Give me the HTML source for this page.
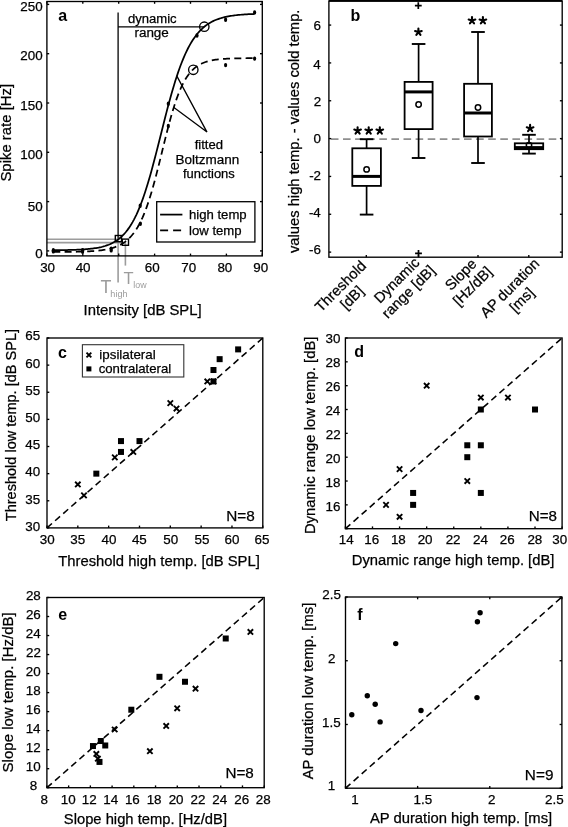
<!DOCTYPE html>
<html><head><meta charset="utf-8"><title>figure</title>
<style>
html,body{margin:0;padding:0;background:#fff;}
body{width:568px;height:827px;overflow:hidden;}
svg{display:block;will-change:transform;font-family:"Liberation Sans",sans-serif;}
</style></head>
<body>
<svg width="568" height="827" viewBox="0 0 568 827">
<rect width="568" height="827" fill="#fff"/>
<line x1="46.9" y1="239.2" x2="118.3" y2="239.2" stroke="#9c9c9c" stroke-width="1.6"/>
<line x1="46.9" y1="242.6" x2="125.4" y2="242.6" stroke="#9c9c9c" stroke-width="1.6"/>
<line x1="118.1" y1="238.6" x2="118.1" y2="282.5" stroke="#9c9c9c" stroke-width="1.6"/>
<line x1="125.4" y1="242.1" x2="125.4" y2="265.6" stroke="#9c9c9c" stroke-width="1.6"/>
<line x1="118.1" y1="12.6" x2="118.1" y2="238.6" stroke="#000" stroke-width="1.3"/>
<line x1="118.1" y1="26.9" x2="204.3" y2="26.9" stroke="#000" stroke-width="1.3"/>
<path d="M53.3,250.18 L54.56,250.17 L55.82,250.16 L57.07,250.15 L58.33,250.14 L59.59,250.13 L60.85,250.11 L62.11,250.1 L63.36,250.08 L64.62,250.06 L65.88,250.04 L67.14,250.01 L68.4,249.99 L69.66,249.96 L70.91,249.93 L72.17,249.89 L73.43,249.85 L74.69,249.81 L75.95,249.77 L77.2,249.72 L78.46,249.66 L79.72,249.6 L80.98,249.54 L82.24,249.46 L83.5,249.38 L84.75,249.3 L86.01,249.2 L87.27,249.1 L88.53,248.98 L89.79,248.86 L91.04,248.72 L92.3,248.57 L93.56,248.41 L94.82,248.23 L96.08,248.03 L97.33,247.81 L98.59,247.58 L99.85,247.32 L101.11,247.04 L102.37,246.73 L103.62,246.39 L104.88,246.03 L106.14,245.62 L107.4,245.18 L108.66,244.71 L109.92,244.19 L111.17,243.62 L112.43,243 L113.69,242.32 L114.95,241.59 L116.21,240.79 L117.46,239.93 L118.72,238.99 L119.98,237.97 L121.24,236.87 L122.5,235.67 L123.76,234.38 L125.01,232.99 L126.27,231.49 L127.53,229.87 L128.79,228.13 L130.05,226.26 L131.3,224.26 L132.56,222.11 L133.82,219.82 L135.08,217.38 L136.34,214.78 L137.59,212.02 L138.85,209.1 L140.11,206.01 L141.37,202.75 L142.63,199.33 L143.88,195.74 L145.14,191.98 L146.4,188.06 L147.66,183.99 L148.92,179.77 L150.18,175.41 L151.43,170.92 L152.69,166.3 L153.95,161.59 L155.21,156.78 L156.47,151.9 L157.72,146.95 L158.98,141.96 L160.24,136.95 L161.5,131.93 L162.76,126.92 L164.01,121.94 L165.27,117 L166.53,112.12 L167.79,107.32 L169.05,102.61 L170.31,98.01 L171.56,93.52 L172.82,89.15 L174.08,84.92 L175.34,80.84 L176.6,76.9 L177.85,73.12 L179.11,69.49 L180.37,66.03 L181.63,62.72 L182.89,59.57 L184.14,56.58 L185.4,53.74 L186.66,51.06 L187.92,48.52 L189.18,46.13 L190.44,43.88 L191.69,41.76 L192.95,39.78 L194.21,37.91 L195.47,36.17 L196.73,34.54 L197.98,33.01 L199.24,31.59 L200.5,30.26 L201.76,29.02 L203.02,27.87 L204.27,26.8 L205.53,25.81 L206.79,24.88 L208.05,24.02 L209.31,23.22 L210.57,22.48 L211.82,21.8 L213.08,21.16 L214.34,20.57 L215.6,20.03 L216.86,19.52 L218.11,19.06 L219.37,18.62 L220.63,18.22 L221.89,17.86 L223.15,17.51 L224.41,17.2 L225.66,16.91 L226.92,16.64 L228.18,16.39 L229.44,16.16 L230.7,15.95 L231.95,15.75 L233.21,15.57 L234.47,15.4 L235.73,15.25 L236.99,15.11 L238.24,14.98 L239.5,14.86 L240.76,14.75 L242.02,14.64 L243.28,14.55 L244.54,14.46 L245.79,14.38 L247.05,14.31 L248.31,14.24 L249.57,14.17 L250.83,14.11 L252.08,14.06 L253.34,14.01 L254.6,13.97" fill="none" stroke="#000" stroke-width="1.75"/>
<path d="M53.3,251.99 L54.56,251.99 L55.82,251.98 L57.07,251.98 L58.33,251.97 L59.59,251.96 L60.85,251.96 L62.11,251.95 L63.36,251.94 L64.62,251.93 L65.88,251.92 L67.14,251.9 L68.4,251.89 L69.66,251.87 L70.91,251.86 L72.17,251.84 L73.43,251.82 L74.69,251.8 L75.95,251.77 L77.2,251.75 L78.46,251.72 L79.72,251.69 L80.98,251.65 L82.24,251.61 L83.5,251.57 L84.75,251.52 L86.01,251.47 L87.27,251.42 L88.53,251.36 L89.79,251.29 L91.04,251.22 L92.3,251.13 L93.56,251.04 L94.82,250.95 L96.08,250.84 L97.33,250.72 L98.59,250.59 L99.85,250.45 L101.11,250.29 L102.37,250.12 L103.62,249.93 L104.88,249.73 L106.14,249.5 L107.4,249.25 L108.66,248.98 L109.92,248.68 L111.17,248.35 L112.43,247.99 L113.69,247.59 L114.95,247.16 L116.21,246.69 L117.46,246.17 L118.72,245.6 L119.98,244.98 L121.24,244.29 L122.5,243.55 L123.76,242.73 L125.01,241.84 L126.27,240.87 L127.53,239.81 L128.79,238.66 L130.05,237.4 L131.3,236.03 L132.56,234.54 L133.82,232.92 L135.08,231.16 L136.34,229.26 L137.59,227.21 L138.85,224.99 L140.11,222.6 L141.37,220.04 L142.63,217.28 L143.88,214.33 L145.14,211.19 L146.4,207.84 L147.66,204.29 L148.92,200.54 L150.18,196.59 L151.43,192.45 L152.69,188.12 L153.95,183.61 L155.21,178.95 L156.47,174.15 L157.72,169.22 L158.98,164.2 L160.24,159.11 L161.5,153.97 L162.76,148.83 L164.01,143.69 L165.27,138.6 L166.53,133.59 L167.79,128.68 L169.05,123.89 L170.31,119.25 L171.56,114.79 L172.82,110.51 L174.08,106.43 L175.34,102.55 L176.6,98.9 L177.85,95.46 L179.11,92.24 L180.37,89.24 L181.63,86.45 L182.89,83.87 L184.14,81.49 L185.4,79.29 L186.66,77.28 L187.92,75.44 L189.18,73.76 L190.44,72.23 L191.69,70.83 L192.95,69.57 L194.21,68.42 L195.47,67.38 L196.73,66.44 L197.98,65.6 L199.24,64.83 L200.5,64.14 L201.76,63.52 L203.02,62.97 L204.27,62.46 L205.53,62.01 L206.79,61.61 L208.05,61.25 L209.31,60.92 L210.57,60.63 L211.82,60.37 L213.08,60.13 L214.34,59.92 L215.6,59.74 L216.86,59.57 L218.11,59.42 L219.37,59.28 L220.63,59.16 L221.89,59.05 L223.15,58.96 L224.41,58.87 L225.66,58.79 L226.92,58.73 L228.18,58.66 L229.44,58.61 L230.7,58.56 L231.95,58.52 L233.21,58.48 L234.47,58.44 L235.73,58.41 L236.99,58.38 L238.24,58.36 L239.5,58.33 L240.76,58.31 L242.02,58.3 L243.28,58.28 L244.54,58.27 L245.79,58.25 L247.05,58.24 L248.31,58.23 L249.57,58.22 L250.83,58.21 L252.08,58.21 L253.34,58.2 L254.6,58.19" fill="none" stroke="#000" stroke-width="1.75" stroke-dasharray="7 4.3"/>
<ellipse cx="53.3" cy="250.2" rx="1.6" ry="2.2" fill="#000"/>
<ellipse cx="53.3" cy="251.4" rx="1.6" ry="2.2" fill="#000"/>
<ellipse cx="82.6" cy="250.3" rx="1.6" ry="2.2" fill="#000"/>
<ellipse cx="82.6" cy="251.8" rx="1.6" ry="2.2" fill="#000"/>
<ellipse cx="111.2" cy="248.6" rx="1.6" ry="2.2" fill="#000"/>
<ellipse cx="111.2" cy="250.4" rx="1.6" ry="2.2" fill="#000"/>
<ellipse cx="140.2" cy="205.8" rx="1.6" ry="2.2" fill="#000"/>
<ellipse cx="140.4" cy="223.8" rx="1.6" ry="2.2" fill="#000"/>
<ellipse cx="168.3" cy="103.7" rx="1.6" ry="2.2" fill="#000"/>
<ellipse cx="168.3" cy="126" rx="1.6" ry="2.2" fill="#000"/>
<ellipse cx="197" cy="35.5" rx="1.6" ry="2.2" fill="#000"/>
<ellipse cx="225.6" cy="19.8" rx="1.6" ry="2.2" fill="#000"/>
<ellipse cx="225.6" cy="65.1" rx="1.6" ry="2.2" fill="#000"/>
<ellipse cx="254.6" cy="12.4" rx="1.6" ry="2.2" fill="#000"/>
<ellipse cx="254.6" cy="58.6" rx="1.6" ry="2.2" fill="#000"/>
<circle cx="204.3" cy="26.7" r="4.7" fill="none" stroke="#000" stroke-width="1.35"/>
<circle cx="193.3" cy="69.8" r="4.7" fill="none" stroke="#000" stroke-width="1.35"/>
<rect x="115.3" y="235.5" width="6.2" height="6.2" fill="none" stroke="#000" stroke-width="1.4"/>
<rect x="122.3" y="239.1" width="6.2" height="6.2" fill="none" stroke="#000" stroke-width="1.4"/>
<path d="M176.6 75.6L207 132.1L173.9 107.6" fill="none" stroke="#000" stroke-width="1.3"/>
<rect x="46.9" y="1.5" width="215.4" height="254.4" fill="none" stroke="#000" stroke-width="1.35"/>
<line x1="46.9" y1="255.9" x2="46.9" y2="253.6" stroke="#000" stroke-width="1.35"/>
<line x1="46.9" y1="1.5" x2="46.9" y2="3.8" stroke="#000" stroke-width="1.35"/>
<line x1="82.8" y1="255.9" x2="82.8" y2="253.6" stroke="#000" stroke-width="1.35"/>
<line x1="82.8" y1="1.5" x2="82.8" y2="3.8" stroke="#000" stroke-width="1.35"/>
<line x1="118.7" y1="255.9" x2="118.7" y2="253.6" stroke="#000" stroke-width="1.35"/>
<line x1="118.7" y1="1.5" x2="118.7" y2="3.8" stroke="#000" stroke-width="1.35"/>
<line x1="154.6" y1="255.9" x2="154.6" y2="253.6" stroke="#000" stroke-width="1.35"/>
<line x1="154.6" y1="1.5" x2="154.6" y2="3.8" stroke="#000" stroke-width="1.35"/>
<line x1="190.5" y1="255.9" x2="190.5" y2="253.6" stroke="#000" stroke-width="1.35"/>
<line x1="190.5" y1="1.5" x2="190.5" y2="3.8" stroke="#000" stroke-width="1.35"/>
<line x1="226.4" y1="255.9" x2="226.4" y2="253.6" stroke="#000" stroke-width="1.35"/>
<line x1="226.4" y1="1.5" x2="226.4" y2="3.8" stroke="#000" stroke-width="1.35"/>
<line x1="262.3" y1="255.9" x2="262.3" y2="253.6" stroke="#000" stroke-width="1.35"/>
<line x1="262.3" y1="1.5" x2="262.3" y2="3.8" stroke="#000" stroke-width="1.35"/>
<line x1="46.9" y1="250.9" x2="49.2" y2="250.9" stroke="#000" stroke-width="1.35"/>
<line x1="262.3" y1="250.9" x2="260" y2="250.9" stroke="#000" stroke-width="1.35"/>
<line x1="46.9" y1="201.6" x2="49.2" y2="201.6" stroke="#000" stroke-width="1.35"/>
<line x1="262.3" y1="201.6" x2="260" y2="201.6" stroke="#000" stroke-width="1.35"/>
<line x1="46.9" y1="152.3" x2="49.2" y2="152.3" stroke="#000" stroke-width="1.35"/>
<line x1="262.3" y1="152.3" x2="260" y2="152.3" stroke="#000" stroke-width="1.35"/>
<line x1="46.9" y1="103" x2="49.2" y2="103" stroke="#000" stroke-width="1.35"/>
<line x1="262.3" y1="103" x2="260" y2="103" stroke="#000" stroke-width="1.35"/>
<line x1="46.9" y1="53.7" x2="49.2" y2="53.7" stroke="#000" stroke-width="1.35"/>
<line x1="262.3" y1="53.7" x2="260" y2="53.7" stroke="#000" stroke-width="1.35"/>
<line x1="46.9" y1="4.4" x2="49.2" y2="4.4" stroke="#000" stroke-width="1.35"/>
<line x1="262.3" y1="4.4" x2="260" y2="4.4" stroke="#000" stroke-width="1.35"/>
<text x="58.22" y="21.4" font-size="16" font-weight="bold">a</text>
<text x="127.88" y="23.2" font-size="13.09" stroke="#000" stroke-width="0.25">dynamic</text>
<text x="134.43" y="37.2" font-size="13.46" stroke="#000" stroke-width="0.25">range</text>
<text x="194.7" y="149.3" font-size="13.09" stroke="#000" stroke-width="0.25">fitted</text>
<text x="175.52" y="164.1" font-size="13.49" stroke="#000" stroke-width="0.25">Boltzmann</text>
<text x="183.01" y="178.4" font-size="12.95" stroke="#000" stroke-width="0.25">functions</text>
<rect x="156.7" y="201.7" width="98.2" height="40.3" fill="none" stroke="#000" stroke-width="1.3"/>
<line x1="160.1" y1="214.6" x2="182.4" y2="214.6" stroke="#000" stroke-width="1.75"/>
<line x1="160.1" y1="230.4" x2="182.4" y2="230.4" stroke="#000" stroke-width="1.75" stroke-dasharray="8 5"/>
<text x="188.98" y="219" font-size="13.15" stroke="#000" stroke-width="0.25">high temp</text>
<text x="189.05" y="235.3" font-size="13.15" stroke="#000" stroke-width="0.25">low temp</text>
<text x="40.13" y="272.4" font-size="13.4" stroke="#000" stroke-width="0.25">30</text>
<text x="75.66" y="272.4" font-size="13.4" stroke="#000" stroke-width="0.25">40</text>
<text x="144.86" y="272.4" font-size="13.4" stroke="#000" stroke-width="0.25">60</text>
<text x="181.36" y="272.4" font-size="13.4" stroke="#000" stroke-width="0.25">70</text>
<text x="217.4" y="272.4" font-size="13.4" stroke="#000" stroke-width="0.25">80</text>
<text x="253.3" y="272.4" font-size="13.4" stroke="#000" stroke-width="0.25">90</text>
<text x="35.23" y="257.62" font-size="13.4" stroke="#000" stroke-width="0.25">0</text>
<text x="27.8" y="211.42" font-size="13.4" stroke="#000" stroke-width="0.25">50</text>
<text x="20.36" y="159.42" font-size="13.4" stroke="#000" stroke-width="0.25">100</text>
<text x="20.36" y="109.82" font-size="13.4" stroke="#000" stroke-width="0.25">150</text>
<text x="20.36" y="59.62" font-size="13.4" stroke="#000" stroke-width="0.25">200</text>
<text x="20.36" y="10.62" font-size="13.4" stroke="#000" stroke-width="0.25">250</text>
<text x="100.44" y="293" font-size="17.89" fill="#9c9c9c">T</text>
<text x="110.36" y="296.5" font-size="9.12" fill="#9c9c9c">high</text>
<text x="123.57" y="283.5" font-size="16.49" fill="#9c9c9c">T</text>
<text x="133.33" y="287.5" font-size="8.82" fill="#9c9c9c">low</text>
<text x="83.56" y="314.6" font-size="14.87" stroke="#000" stroke-width="0.25">Intensity [dB SPL]</text>
<text transform="translate(10.9,181.57) rotate(-90)" font-size="14.91" stroke="#000" stroke-width="0.25">Spike rate [Hz]</text>
<line x1="328.9" y1="139.1" x2="562.2" y2="139.1" stroke="#8f8f8f" stroke-width="1.6" stroke-dasharray="7.6 4.5" stroke-dashoffset="-2"/>
<line x1="366.6" y1="139.2" x2="366.6" y2="148.3" stroke="#000" stroke-width="1.7"/>
<line x1="366.6" y1="185.9" x2="366.6" y2="214.6" stroke="#000" stroke-width="1.7"/>
<line x1="359.8" y1="139.2" x2="373.4" y2="139.2" stroke="#000" stroke-width="1.9"/>
<line x1="359.8" y1="214.6" x2="373.4" y2="214.6" stroke="#000" stroke-width="1.9"/>
<rect x="352.3" y="148.3" width="28.6" height="37.6" fill="#fff" stroke="#000" stroke-width="1.8"/>
<line x1="352.3" y1="176.4" x2="380.9" y2="176.4" stroke="#000" stroke-width="3"/>
<circle cx="366.6" cy="169.4" r="2.7" fill="none" stroke="#000" stroke-width="1.5"/>
<line x1="418.6" y1="44" x2="418.6" y2="81.9" stroke="#000" stroke-width="1.7"/>
<line x1="418.6" y1="129.1" x2="418.6" y2="158" stroke="#000" stroke-width="1.7"/>
<line x1="411.8" y1="44" x2="425.4" y2="44" stroke="#000" stroke-width="1.9"/>
<line x1="411.8" y1="158" x2="425.4" y2="158" stroke="#000" stroke-width="1.9"/>
<rect x="404.6" y="81.9" width="28" height="47.2" fill="#fff" stroke="#000" stroke-width="1.8"/>
<line x1="404.6" y1="91.9" x2="432.6" y2="91.9" stroke="#000" stroke-width="3"/>
<circle cx="418.6" cy="104.5" r="2.7" fill="none" stroke="#000" stroke-width="1.5"/>
<line x1="478" y1="32" x2="478" y2="83.8" stroke="#000" stroke-width="1.7"/>
<line x1="478" y1="136.5" x2="478" y2="163" stroke="#000" stroke-width="1.7"/>
<line x1="471.2" y1="32" x2="484.8" y2="32" stroke="#000" stroke-width="1.9"/>
<line x1="471.2" y1="163" x2="484.8" y2="163" stroke="#000" stroke-width="1.9"/>
<rect x="464.1" y="83.8" width="27.8" height="52.7" fill="#fff" stroke="#000" stroke-width="1.8"/>
<line x1="464.1" y1="113" x2="491.9" y2="113" stroke="#000" stroke-width="3"/>
<circle cx="478" cy="107.5" r="2.7" fill="none" stroke="#000" stroke-width="1.5"/>
<line x1="529" y1="134.8" x2="529" y2="143.3" stroke="#000" stroke-width="1.7"/>
<line x1="529" y1="149.2" x2="529" y2="153.6" stroke="#000" stroke-width="1.7"/>
<line x1="522.2" y1="134.8" x2="535.8" y2="134.8" stroke="#000" stroke-width="1.9"/>
<line x1="522.2" y1="153.6" x2="535.8" y2="153.6" stroke="#000" stroke-width="1.9"/>
<rect x="514.8" y="143.3" width="28.4" height="5.9" fill="#fff" stroke="#000" stroke-width="1.8"/>
<line x1="514.8" y1="147.6" x2="543.2" y2="147.6" stroke="#000" stroke-width="3"/>
<circle cx="529" cy="145.1" r="2.7" fill="none" stroke="#000" stroke-width="1.5"/>
<path d="M357.6 130.7L357.6 127.2M357.6 130.7L360.93 129.62M357.6 130.7L359.66 133.53M357.6 130.7L355.54 133.53M357.6 130.7L354.27 129.62" stroke="#000" stroke-width="2.1" stroke-linecap="round" fill="none"/>
<path d="M368.7 130.7L368.7 127.2M368.7 130.7L372.03 129.62M368.7 130.7L370.76 133.53M368.7 130.7L366.64 133.53M368.7 130.7L365.37 129.62" stroke="#000" stroke-width="2.1" stroke-linecap="round" fill="none"/>
<path d="M379.8 130.7L379.8 127.2M379.8 130.7L383.13 129.62M379.8 130.7L381.86 133.53M379.8 130.7L377.74 133.53M379.8 130.7L376.47 129.62" stroke="#000" stroke-width="2.1" stroke-linecap="round" fill="none"/>
<path d="M418.4 32.1L418.4 28.6M418.4 32.1L421.73 31.02M418.4 32.1L420.46 34.93M418.4 32.1L416.34 34.93M418.4 32.1L415.07 31.02" stroke="#000" stroke-width="2.1" stroke-linecap="round" fill="none"/>
<path d="M472 20.6L472 17.1M472 20.6L475.33 19.52M472 20.6L474.06 23.43M472 20.6L469.94 23.43M472 20.6L468.67 19.52" stroke="#000" stroke-width="2.1" stroke-linecap="round" fill="none"/>
<path d="M482.9 20.6L482.9 17.1M482.9 20.6L486.23 19.52M482.9 20.6L484.96 23.43M482.9 20.6L480.84 23.43M482.9 20.6L479.57 19.52" stroke="#000" stroke-width="2.1" stroke-linecap="round" fill="none"/>
<path d="M530.1 128.4L530.1 124.9M530.1 128.4L533.43 127.32M530.1 128.4L532.16 131.23M530.1 128.4L528.04 131.23M530.1 128.4L526.77 127.32" stroke="#000" stroke-width="2.1" stroke-linecap="round" fill="none"/>
<path d="M414.9 5.7H421.7M418.3 2.3V9.1" stroke="#000" stroke-width="1.7" fill="none"/>
<path d="M415.1 253.4H421.9M418.5 250V256.8" stroke="#000" stroke-width="1.7" fill="none"/>
<rect x="328.9" y="1" width="233.3" height="256.2" fill="none" stroke="#000" stroke-width="1.35"/>
<line x1="328.9" y1="0.9" x2="562.2" y2="0.9" stroke="#000" stroke-width="1.8"/>
<line x1="328.9" y1="252.12" x2="331.2" y2="252.12" stroke="#000" stroke-width="1.35"/>
<line x1="562.2" y1="252.12" x2="559.9" y2="252.12" stroke="#000" stroke-width="1.35"/>
<line x1="328.9" y1="214.28" x2="331.2" y2="214.28" stroke="#000" stroke-width="1.35"/>
<line x1="562.2" y1="214.28" x2="559.9" y2="214.28" stroke="#000" stroke-width="1.35"/>
<line x1="328.9" y1="176.44" x2="331.2" y2="176.44" stroke="#000" stroke-width="1.35"/>
<line x1="562.2" y1="176.44" x2="559.9" y2="176.44" stroke="#000" stroke-width="1.35"/>
<line x1="328.9" y1="138.6" x2="331.2" y2="138.6" stroke="#000" stroke-width="1.35"/>
<line x1="562.2" y1="138.6" x2="559.9" y2="138.6" stroke="#000" stroke-width="1.35"/>
<line x1="328.9" y1="100.76" x2="331.2" y2="100.76" stroke="#000" stroke-width="1.35"/>
<line x1="562.2" y1="100.76" x2="559.9" y2="100.76" stroke="#000" stroke-width="1.35"/>
<line x1="328.9" y1="62.92" x2="331.2" y2="62.92" stroke="#000" stroke-width="1.35"/>
<line x1="562.2" y1="62.92" x2="559.9" y2="62.92" stroke="#000" stroke-width="1.35"/>
<line x1="328.9" y1="25.08" x2="331.2" y2="25.08" stroke="#000" stroke-width="1.35"/>
<line x1="562.2" y1="25.08" x2="559.9" y2="25.08" stroke="#000" stroke-width="1.35"/>
<line x1="366.3" y1="257.2" x2="366.3" y2="254.9" stroke="#000" stroke-width="1.35"/>
<line x1="418.5" y1="257.2" x2="418.5" y2="254.9" stroke="#000" stroke-width="1.35"/>
<line x1="478" y1="257.2" x2="478" y2="254.9" stroke="#000" stroke-width="1.35"/>
<line x1="528.8" y1="257.2" x2="528.8" y2="254.9" stroke="#000" stroke-width="1.35"/>
<text x="350.56" y="21.4" font-size="16" font-weight="bold">b</text>
<text x="313.5" y="30.12" font-size="13.4" stroke="#000" stroke-width="0.25">6</text>
<text x="313.36" y="68.72" font-size="13.4" stroke="#000" stroke-width="0.25">4</text>
<text x="313.63" y="105.52" font-size="13.4" stroke="#000" stroke-width="0.25">2</text>
<text x="313.43" y="142.72" font-size="13.4" stroke="#000" stroke-width="0.25">0</text>
<text x="309.14" y="180.12" font-size="13.4" stroke="#000" stroke-width="0.25">-2</text>
<text x="308.88" y="216.52" font-size="13.4" stroke="#000" stroke-width="0.25">-4</text>
<text x="309.01" y="254.32" font-size="13.4" stroke="#000" stroke-width="0.25">-6</text>
<text transform="translate(298.7,253.07) rotate(-90)" font-size="14.76" stroke="#000" stroke-width="0.25">values high temp. - values cold temp.</text>
<text transform="translate(344.05,289.75) rotate(-45)" font-size="14.7" text-anchor="middle" stroke="#000" stroke-width="0.25">Threshold</text>
<text transform="translate(355.44,301.13) rotate(-45)" font-size="14.7" text-anchor="middle" stroke="#000" stroke-width="0.25">[dB]</text>
<text transform="translate(400.22,283.69) rotate(-45)" font-size="14.7" text-anchor="middle" stroke="#000" stroke-width="0.25">Dynamic</text>
<text transform="translate(411.82,295.28) rotate(-45)" font-size="14.7" text-anchor="middle" stroke="#000" stroke-width="0.25">range [dB]</text>
<text transform="translate(464.33,278.08) rotate(-45)" font-size="14.7" text-anchor="middle" stroke="#000" stroke-width="0.25">Slope</text>
<text transform="translate(475.93,289.67) rotate(-45)" font-size="14.7" text-anchor="middle" stroke="#000" stroke-width="0.25">[Hz/dB]</text>
<text transform="translate(513.35,291.45) rotate(-45)" font-size="14.7" text-anchor="middle" stroke="#000" stroke-width="0.25">AP duration</text>
<text transform="translate(525.22,303.33) rotate(-45)" font-size="14.7" text-anchor="middle" stroke="#000" stroke-width="0.25">[ms]</text>
<line x1="47" y1="527.9" x2="262.8" y2="338" stroke="#000" stroke-width="1.55" stroke-dasharray="6.6 4.2"/>
<rect x="93.33" y="470.64" width="6" height="6" fill="#000"/>
<rect x="117.99" y="438.09" width="6" height="6" fill="#000"/>
<rect x="117.99" y="448.94" width="6" height="6" fill="#000"/>
<rect x="136.49" y="438.09" width="6" height="6" fill="#000"/>
<rect x="210.47" y="378.41" width="6" height="6" fill="#000"/>
<rect x="210.47" y="367.01" width="6" height="6" fill="#000"/>
<rect x="216.64" y="356.16" width="6" height="6" fill="#000"/>
<rect x="235.14" y="346.39" width="6" height="6" fill="#000"/>
<path d="M75.13 481.79L80.53 487.19M75.13 487.19L80.53 481.79" stroke="#000" stroke-width="1.9" fill="none"/>
<path d="M81.29 492.65L86.69 498.05M81.29 498.05L86.69 492.65" stroke="#000" stroke-width="1.9" fill="none"/>
<path d="M112.12 454.67L117.52 460.07M112.12 460.07L117.52 454.67" stroke="#000" stroke-width="1.9" fill="none"/>
<path d="M130.62 449.24L136.02 454.64M130.62 454.64L136.02 449.24" stroke="#000" stroke-width="1.9" fill="none"/>
<path d="M167.61 400.41L173.01 405.81M167.61 405.81L173.01 400.41" stroke="#000" stroke-width="1.9" fill="none"/>
<path d="M173.78 405.83L179.18 411.23M173.78 411.23L179.18 405.83" stroke="#000" stroke-width="1.9" fill="none"/>
<path d="M204.61 378.71L210.01 384.11M204.61 384.11L210.01 378.71" stroke="#000" stroke-width="1.9" fill="none"/>
<path d="M210.77 378.71L216.17 384.11M210.77 384.11L216.17 378.71" stroke="#000" stroke-width="1.9" fill="none"/>
<rect x="47" y="338" width="215.8" height="189.9" fill="none" stroke="#000" stroke-width="1.35"/>
<line x1="47" y1="527.9" x2="47" y2="525.6" stroke="#000" stroke-width="1.35"/>
<line x1="77.83" y1="527.9" x2="77.83" y2="525.6" stroke="#000" stroke-width="1.35"/>
<line x1="108.66" y1="527.9" x2="108.66" y2="525.6" stroke="#000" stroke-width="1.35"/>
<line x1="139.49" y1="527.9" x2="139.49" y2="525.6" stroke="#000" stroke-width="1.35"/>
<line x1="170.31" y1="527.9" x2="170.31" y2="525.6" stroke="#000" stroke-width="1.35"/>
<line x1="201.14" y1="527.9" x2="201.14" y2="525.6" stroke="#000" stroke-width="1.35"/>
<line x1="231.97" y1="527.9" x2="231.97" y2="525.6" stroke="#000" stroke-width="1.35"/>
<line x1="262.8" y1="527.9" x2="262.8" y2="525.6" stroke="#000" stroke-width="1.35"/>
<line x1="47" y1="527.9" x2="49.3" y2="527.9" stroke="#000" stroke-width="1.35"/>
<line x1="47" y1="500.77" x2="49.3" y2="500.77" stroke="#000" stroke-width="1.35"/>
<line x1="47" y1="473.64" x2="49.3" y2="473.64" stroke="#000" stroke-width="1.35"/>
<line x1="47" y1="446.51" x2="49.3" y2="446.51" stroke="#000" stroke-width="1.35"/>
<line x1="47" y1="419.39" x2="49.3" y2="419.39" stroke="#000" stroke-width="1.35"/>
<line x1="47" y1="392.26" x2="49.3" y2="392.26" stroke="#000" stroke-width="1.35"/>
<line x1="47" y1="365.13" x2="49.3" y2="365.13" stroke="#000" stroke-width="1.35"/>
<line x1="47" y1="338" x2="49.3" y2="338" stroke="#000" stroke-width="1.35"/>
<text x="58.06" y="358" font-size="16" font-weight="bold">c</text>
<rect x="82.4" y="344.7" width="101.4" height="32.3" fill="none" stroke="#333" stroke-width="1.1"/>
<path d="M86.5 352.6L91.3 357.4M86.5 357.4L91.3 352.6" stroke="#000" stroke-width="1.9" fill="none"/>
<rect x="86.4" y="366.4" width="5" height="5" fill="#000"/>
<text x="99.33" y="359.3" font-size="13.35" stroke="#000" stroke-width="0.25">ipsilateral</text>
<text x="98.67" y="372.5" font-size="13.18" stroke="#000" stroke-width="0.25">contralateral</text>
<text x="226.27" y="520.7" font-size="15.34" stroke="#000" stroke-width="0.25">N=8</text>
<text x="39.83" y="544" font-size="13.4" stroke="#000" stroke-width="0.25">30</text>
<text x="70.26" y="544" font-size="13.4" stroke="#000" stroke-width="0.25">35</text>
<text x="101.46" y="544" font-size="13.4" stroke="#000" stroke-width="0.25">40</text>
<text x="131.9" y="544" font-size="13.4" stroke="#000" stroke-width="0.25">45</text>
<text x="163.33" y="544" font-size="13.4" stroke="#000" stroke-width="0.25">50</text>
<text x="194.56" y="544" font-size="13.4" stroke="#000" stroke-width="0.25">55</text>
<text x="224.56" y="544" font-size="13.4" stroke="#000" stroke-width="0.25">60</text>
<text x="254.5" y="544" font-size="13.4" stroke="#000" stroke-width="0.25">65</text>
<text x="25.36" y="340.42" font-size="13.4" stroke="#000" stroke-width="0.25">65</text>
<text x="25.3" y="367.63" font-size="13.4" stroke="#000" stroke-width="0.25">60</text>
<text x="25.36" y="394.84" font-size="13.4" stroke="#000" stroke-width="0.25">55</text>
<text x="25.3" y="422.05" font-size="13.4" stroke="#000" stroke-width="0.25">50</text>
<text x="25.36" y="449.26" font-size="13.4" stroke="#000" stroke-width="0.25">45</text>
<text x="25.3" y="476.47" font-size="13.4" stroke="#000" stroke-width="0.25">40</text>
<text x="25.36" y="503.68" font-size="13.4" stroke="#000" stroke-width="0.25">35</text>
<text x="25.3" y="530.89" font-size="13.4" stroke="#000" stroke-width="0.25">30</text>
<text x="58.3" y="565.9" font-size="14.8" stroke="#000" stroke-width="0.25">Threshold high temp. [dB SPL]</text>
<text transform="translate(16,521.19) rotate(-90)" font-size="14.54" stroke="#000" stroke-width="0.25">Threshold low temp. [dB SPL]</text>
<line x1="345.4" y1="528.7" x2="562.1" y2="338" stroke="#000" stroke-width="1.55" stroke-dasharray="6.6 4.2"/>
<rect x="477.84" y="406.51" width="6" height="6" fill="#000"/>
<rect x="532.01" y="406.51" width="6" height="6" fill="#000"/>
<rect x="464.29" y="442.27" width="6" height="6" fill="#000"/>
<rect x="477.84" y="442.27" width="6" height="6" fill="#000"/>
<rect x="464.29" y="454.19" width="6" height="6" fill="#000"/>
<rect x="477.84" y="489.94" width="6" height="6" fill="#000"/>
<rect x="410.12" y="489.94" width="6" height="6" fill="#000"/>
<rect x="410.12" y="501.86" width="6" height="6" fill="#000"/>
<path d="M423.96 382.98L429.36 388.38M423.96 388.38L429.36 382.98" stroke="#000" stroke-width="1.9" fill="none"/>
<path d="M478.14 394.89L483.54 400.29M478.14 400.29L483.54 394.89" stroke="#000" stroke-width="1.9" fill="none"/>
<path d="M505.23 394.89L510.62 400.29M505.23 400.29L510.62 394.89" stroke="#000" stroke-width="1.9" fill="none"/>
<path d="M396.88 466.41L402.27 471.81M396.88 471.81L402.27 466.41" stroke="#000" stroke-width="1.9" fill="none"/>
<path d="M464.59 478.33L469.99 483.73M464.59 483.73L469.99 478.33" stroke="#000" stroke-width="1.9" fill="none"/>
<path d="M383.33 502.16L388.73 507.56M383.33 507.56L388.73 502.16" stroke="#000" stroke-width="1.9" fill="none"/>
<path d="M396.88 514.08L402.27 519.48M396.88 519.48L402.27 514.08" stroke="#000" stroke-width="1.9" fill="none"/>
<rect x="345.4" y="338" width="216.7" height="190.7" fill="none" stroke="#000" stroke-width="1.35"/>
<line x1="345.4" y1="528.7" x2="345.4" y2="526.4" stroke="#000" stroke-width="1.35"/>
<line x1="372.49" y1="528.7" x2="372.49" y2="526.4" stroke="#000" stroke-width="1.35"/>
<line x1="399.57" y1="528.7" x2="399.57" y2="526.4" stroke="#000" stroke-width="1.35"/>
<line x1="426.66" y1="528.7" x2="426.66" y2="526.4" stroke="#000" stroke-width="1.35"/>
<line x1="453.75" y1="528.7" x2="453.75" y2="526.4" stroke="#000" stroke-width="1.35"/>
<line x1="480.84" y1="528.7" x2="480.84" y2="526.4" stroke="#000" stroke-width="1.35"/>
<line x1="507.93" y1="528.7" x2="507.93" y2="526.4" stroke="#000" stroke-width="1.35"/>
<line x1="535.01" y1="528.7" x2="535.01" y2="526.4" stroke="#000" stroke-width="1.35"/>
<line x1="562.1" y1="528.7" x2="562.1" y2="526.4" stroke="#000" stroke-width="1.35"/>
<line x1="345.4" y1="528.7" x2="347.7" y2="528.7" stroke="#000" stroke-width="1.35"/>
<line x1="345.4" y1="504.86" x2="347.7" y2="504.86" stroke="#000" stroke-width="1.35"/>
<line x1="345.4" y1="481.03" x2="347.7" y2="481.03" stroke="#000" stroke-width="1.35"/>
<line x1="345.4" y1="457.19" x2="347.7" y2="457.19" stroke="#000" stroke-width="1.35"/>
<line x1="345.4" y1="433.35" x2="347.7" y2="433.35" stroke="#000" stroke-width="1.35"/>
<line x1="345.4" y1="409.51" x2="347.7" y2="409.51" stroke="#000" stroke-width="1.35"/>
<line x1="345.4" y1="385.68" x2="347.7" y2="385.68" stroke="#000" stroke-width="1.35"/>
<line x1="345.4" y1="361.84" x2="347.7" y2="361.84" stroke="#000" stroke-width="1.35"/>
<line x1="345.4" y1="338" x2="347.7" y2="338" stroke="#000" stroke-width="1.35"/>
<text x="354.36" y="357.2" font-size="16" font-weight="bold">d</text>
<text x="528.69" y="520.8" font-size="15.17" stroke="#000" stroke-width="0.25">N=8</text>
<text x="338.76" y="543.6" font-size="13.4" stroke="#000" stroke-width="0.25">14</text>
<text x="364.23" y="543.6" font-size="13.4" stroke="#000" stroke-width="0.25">16</text>
<text x="390.93" y="543.6" font-size="13.4" stroke="#000" stroke-width="0.25">18</text>
<text x="417.66" y="543.6" font-size="13.4" stroke="#000" stroke-width="0.25">20</text>
<text x="445.66" y="543.6" font-size="13.4" stroke="#000" stroke-width="0.25">22</text>
<text x="473.03" y="543.6" font-size="13.4" stroke="#000" stroke-width="0.25">24</text>
<text x="499.8" y="543.6" font-size="13.4" stroke="#000" stroke-width="0.25">26</text>
<text x="527.4" y="543.6" font-size="13.4" stroke="#000" stroke-width="0.25">28</text>
<text x="552.33" y="543.6" font-size="13.4" stroke="#000" stroke-width="0.25">30</text>
<text x="325.5" y="343.32" font-size="13.4" stroke="#000" stroke-width="0.25">30</text>
<text x="325.56" y="367.25" font-size="13.4" stroke="#000" stroke-width="0.25">28</text>
<text x="325.56" y="391.18" font-size="13.4" stroke="#000" stroke-width="0.25">26</text>
<text x="325.43" y="415.11" font-size="13.4" stroke="#000" stroke-width="0.25">24</text>
<text x="325.7" y="439.04" font-size="13.4" stroke="#000" stroke-width="0.25">22</text>
<text x="325.5" y="462.97" font-size="13.4" stroke="#000" stroke-width="0.25">20</text>
<text x="325.56" y="486.9" font-size="13.4" stroke="#000" stroke-width="0.25">18</text>
<text x="325.56" y="510.83" font-size="13.4" stroke="#000" stroke-width="0.25">16</text>
<text x="351.82" y="564.7" font-size="14.76" stroke="#000" stroke-width="0.25">Dynamic range high temp. [dB]</text>
<text transform="translate(314.6,533.98) rotate(-90)" font-size="14.8" stroke="#000" stroke-width="0.25">Dynamic range low temp. [dB]</text>
<line x1="46.9" y1="787.7" x2="264.2" y2="597.5" stroke="#000" stroke-width="1.55" stroke-dasharray="6.6 4.2"/>
<rect x="89.97" y="743.05" width="6" height="6" fill="#000"/>
<rect x="97.79" y="738.01" width="6" height="6" fill="#000"/>
<rect x="102.25" y="742.48" width="6" height="6" fill="#000"/>
<rect x="96.49" y="758.93" width="6" height="6" fill="#000"/>
<rect x="128.32" y="706.72" width="6" height="6" fill="#000"/>
<rect x="156.46" y="673.81" width="6" height="6" fill="#000"/>
<rect x="181.99" y="678.76" width="6" height="6" fill="#000"/>
<rect x="222.74" y="635.49" width="6" height="6" fill="#000"/>
<path d="M93.64 751.24L99.04 756.64M93.64 756.64L99.04 751.24" stroke="#000" stroke-width="1.9" fill="none"/>
<path d="M95.16 755.99L100.56 761.39M95.16 761.39L100.56 755.99" stroke="#000" stroke-width="1.9" fill="none"/>
<path d="M112 726.8L117.4 732.2M112 732.2L117.4 726.8" stroke="#000" stroke-width="1.9" fill="none"/>
<path d="M147.2 748.48L152.6 753.88M147.2 753.88L152.6 748.48" stroke="#000" stroke-width="1.9" fill="none"/>
<path d="M163.5 723.28L168.9 728.68M163.5 728.68L168.9 723.28" stroke="#000" stroke-width="1.9" fill="none"/>
<path d="M174.47 705.59L179.87 710.99M174.47 710.99L179.87 705.59" stroke="#000" stroke-width="1.9" fill="none"/>
<path d="M192.83 686L198.23 691.4M192.83 691.4L198.23 686" stroke="#000" stroke-width="1.9" fill="none"/>
<path d="M247.7 629.23L253.1 634.63M247.7 634.63L253.1 629.23" stroke="#000" stroke-width="1.9" fill="none"/>
<rect x="46.9" y="597.5" width="217.3" height="190.2" fill="none" stroke="#000" stroke-width="1.35"/>
<line x1="46.9" y1="787.7" x2="46.9" y2="785.4" stroke="#000" stroke-width="1.35"/>
<line x1="68.63" y1="787.7" x2="68.63" y2="785.4" stroke="#000" stroke-width="1.35"/>
<line x1="90.36" y1="787.7" x2="90.36" y2="785.4" stroke="#000" stroke-width="1.35"/>
<line x1="112.09" y1="787.7" x2="112.09" y2="785.4" stroke="#000" stroke-width="1.35"/>
<line x1="133.82" y1="787.7" x2="133.82" y2="785.4" stroke="#000" stroke-width="1.35"/>
<line x1="155.55" y1="787.7" x2="155.55" y2="785.4" stroke="#000" stroke-width="1.35"/>
<line x1="177.28" y1="787.7" x2="177.28" y2="785.4" stroke="#000" stroke-width="1.35"/>
<line x1="199.01" y1="787.7" x2="199.01" y2="785.4" stroke="#000" stroke-width="1.35"/>
<line x1="220.74" y1="787.7" x2="220.74" y2="785.4" stroke="#000" stroke-width="1.35"/>
<line x1="242.47" y1="787.7" x2="242.47" y2="785.4" stroke="#000" stroke-width="1.35"/>
<line x1="264.2" y1="787.7" x2="264.2" y2="785.4" stroke="#000" stroke-width="1.35"/>
<line x1="46.9" y1="787.7" x2="49.2" y2="787.7" stroke="#000" stroke-width="1.35"/>
<line x1="46.9" y1="768.68" x2="49.2" y2="768.68" stroke="#000" stroke-width="1.35"/>
<line x1="46.9" y1="749.66" x2="49.2" y2="749.66" stroke="#000" stroke-width="1.35"/>
<line x1="46.9" y1="730.64" x2="49.2" y2="730.64" stroke="#000" stroke-width="1.35"/>
<line x1="46.9" y1="711.62" x2="49.2" y2="711.62" stroke="#000" stroke-width="1.35"/>
<line x1="46.9" y1="692.6" x2="49.2" y2="692.6" stroke="#000" stroke-width="1.35"/>
<line x1="46.9" y1="673.58" x2="49.2" y2="673.58" stroke="#000" stroke-width="1.35"/>
<line x1="46.9" y1="654.56" x2="49.2" y2="654.56" stroke="#000" stroke-width="1.35"/>
<line x1="46.9" y1="635.54" x2="49.2" y2="635.54" stroke="#000" stroke-width="1.35"/>
<line x1="46.9" y1="616.52" x2="49.2" y2="616.52" stroke="#000" stroke-width="1.35"/>
<line x1="46.9" y1="597.5" x2="49.2" y2="597.5" stroke="#000" stroke-width="1.35"/>
<text x="58.16" y="620" font-size="16" font-weight="bold">e</text>
<text x="225.48" y="777.9" font-size="15.23" stroke="#000" stroke-width="0.25">N=8</text>
<text x="40.55" y="803.6" font-size="13.4" stroke="#000" stroke-width="0.25">8</text>
<text x="60.8" y="803.6" font-size="13.4" stroke="#000" stroke-width="0.25">10</text>
<text x="81.8" y="803.6" font-size="13.4" stroke="#000" stroke-width="0.25">12</text>
<text x="103.36" y="803.6" font-size="13.4" stroke="#000" stroke-width="0.25">14</text>
<text x="124.93" y="803.6" font-size="13.4" stroke="#000" stroke-width="0.25">16</text>
<text x="146.63" y="803.6" font-size="13.4" stroke="#000" stroke-width="0.25">18</text>
<text x="168.66" y="803.6" font-size="13.4" stroke="#000" stroke-width="0.25">20</text>
<text x="190.46" y="803.6" font-size="13.4" stroke="#000" stroke-width="0.25">22</text>
<text x="212.23" y="803.6" font-size="13.4" stroke="#000" stroke-width="0.25">24</text>
<text x="234.3" y="803.6" font-size="13.4" stroke="#000" stroke-width="0.25">26</text>
<text x="255.7" y="803.6" font-size="13.4" stroke="#000" stroke-width="0.25">28</text>
<text x="25.9" y="600.12" font-size="13.4" stroke="#000" stroke-width="0.25">28</text>
<text x="25.9" y="619.11" font-size="13.4" stroke="#000" stroke-width="0.25">26</text>
<text x="25.83" y="638.1" font-size="13.4" stroke="#000" stroke-width="0.25">24</text>
<text x="25.96" y="657.09" font-size="13.4" stroke="#000" stroke-width="0.25">22</text>
<text x="25.86" y="676.08" font-size="13.4" stroke="#000" stroke-width="0.25">20</text>
<text x="25.73" y="695.07" font-size="13.4" stroke="#000" stroke-width="0.25">18</text>
<text x="25.73" y="714.06" font-size="13.4" stroke="#000" stroke-width="0.25">16</text>
<text x="25.66" y="733.05" font-size="13.4" stroke="#000" stroke-width="0.25">14</text>
<text x="25.8" y="752.04" font-size="13.4" stroke="#000" stroke-width="0.25">12</text>
<text x="25.7" y="771.03" font-size="13.4" stroke="#000" stroke-width="0.25">10</text>
<text x="29.65" y="790.02" font-size="13.4" stroke="#000" stroke-width="0.25">8</text>
<text x="63.84" y="823.8" font-size="14.76" stroke="#000" stroke-width="0.25">Slope high temp. [Hz/dB]</text>
<text transform="translate(13.1,772.38) rotate(-90)" font-size="15.01" stroke="#000" stroke-width="0.25">Slope low temp. [Hz/dB]</text>
<line x1="345.5" y1="788.2" x2="561.9" y2="597" stroke="#000" stroke-width="1.55" stroke-dasharray="6.6 4.2"/>
<circle cx="480.1" cy="612.8" r="2.7" fill="#000"/>
<circle cx="477.4" cy="621.8" r="2.7" fill="#000"/>
<circle cx="395.7" cy="643.6" r="2.7" fill="#000"/>
<circle cx="367.3" cy="695.8" r="2.7" fill="#000"/>
<circle cx="375.2" cy="704.3" r="2.7" fill="#000"/>
<circle cx="351.8" cy="714.7" r="2.7" fill="#000"/>
<circle cx="380.1" cy="721.9" r="2.7" fill="#000"/>
<circle cx="421" cy="710.5" r="2.7" fill="#000"/>
<circle cx="477" cy="697.6" r="2.7" fill="#000"/>
<rect x="345.5" y="597" width="216.4" height="191.2" fill="none" stroke="#000" stroke-width="1.35"/>
<line x1="345.5" y1="788.2" x2="345.5" y2="785.9" stroke="#000" stroke-width="1.35"/>
<line x1="345.5" y1="597" x2="345.5" y2="599.3" stroke="#000" stroke-width="1.35"/>
<line x1="417.63" y1="788.2" x2="417.63" y2="785.9" stroke="#000" stroke-width="1.35"/>
<line x1="417.63" y1="597" x2="417.63" y2="599.3" stroke="#000" stroke-width="1.35"/>
<line x1="489.77" y1="788.2" x2="489.77" y2="785.9" stroke="#000" stroke-width="1.35"/>
<line x1="489.77" y1="597" x2="489.77" y2="599.3" stroke="#000" stroke-width="1.35"/>
<line x1="561.9" y1="788.2" x2="561.9" y2="785.9" stroke="#000" stroke-width="1.35"/>
<line x1="561.9" y1="597" x2="561.9" y2="599.3" stroke="#000" stroke-width="1.35"/>
<line x1="345.5" y1="788.2" x2="347.8" y2="788.2" stroke="#000" stroke-width="1.35"/>
<line x1="561.9" y1="788.2" x2="559.6" y2="788.2" stroke="#000" stroke-width="1.35"/>
<line x1="345.5" y1="724.47" x2="347.8" y2="724.47" stroke="#000" stroke-width="1.35"/>
<line x1="561.9" y1="724.47" x2="559.6" y2="724.47" stroke="#000" stroke-width="1.35"/>
<line x1="345.5" y1="660.73" x2="347.8" y2="660.73" stroke="#000" stroke-width="1.35"/>
<line x1="561.9" y1="660.73" x2="559.6" y2="660.73" stroke="#000" stroke-width="1.35"/>
<line x1="345.5" y1="597" x2="347.8" y2="597" stroke="#000" stroke-width="1.35"/>
<line x1="561.9" y1="597" x2="559.6" y2="597" stroke="#000" stroke-width="1.35"/>
<text x="357.26" y="619.7" font-size="16" font-weight="bold">f</text>
<text x="524.87" y="779.7" font-size="15.33" stroke="#000" stroke-width="0.25">N=9</text>
<text x="351.28" y="803.6" font-size="13.4" stroke="#000" stroke-width="0.25">1</text>
<text x="413.55" y="803.6" font-size="13.4" stroke="#000" stroke-width="0.25">1.5</text>
<text x="487.98" y="803.6" font-size="13.4" stroke="#000" stroke-width="0.25">2</text>
<text x="545.12" y="803.6" font-size="13.4" stroke="#000" stroke-width="0.25">2.5</text>
<text x="322.22" y="598.82" font-size="13.4" stroke="#000" stroke-width="0.25">2.5</text>
<text x="327.88" y="663.12" font-size="13.4" stroke="#000" stroke-width="0.25">2</text>
<text x="322.05" y="726.82" font-size="13.4" stroke="#000" stroke-width="0.25">1.5</text>
<text x="327.68" y="790.42" font-size="13.4" stroke="#000" stroke-width="0.25">1</text>
<text x="369.9" y="823" font-size="14.8" stroke="#000" stroke-width="0.25">AP duration high temp. [ms]</text>
<text transform="translate(312.6,779.3) rotate(-90)" font-size="14.8" stroke="#000" stroke-width="0.25">AP duration low temp. [ms]</text>
</svg>
</body></html>
